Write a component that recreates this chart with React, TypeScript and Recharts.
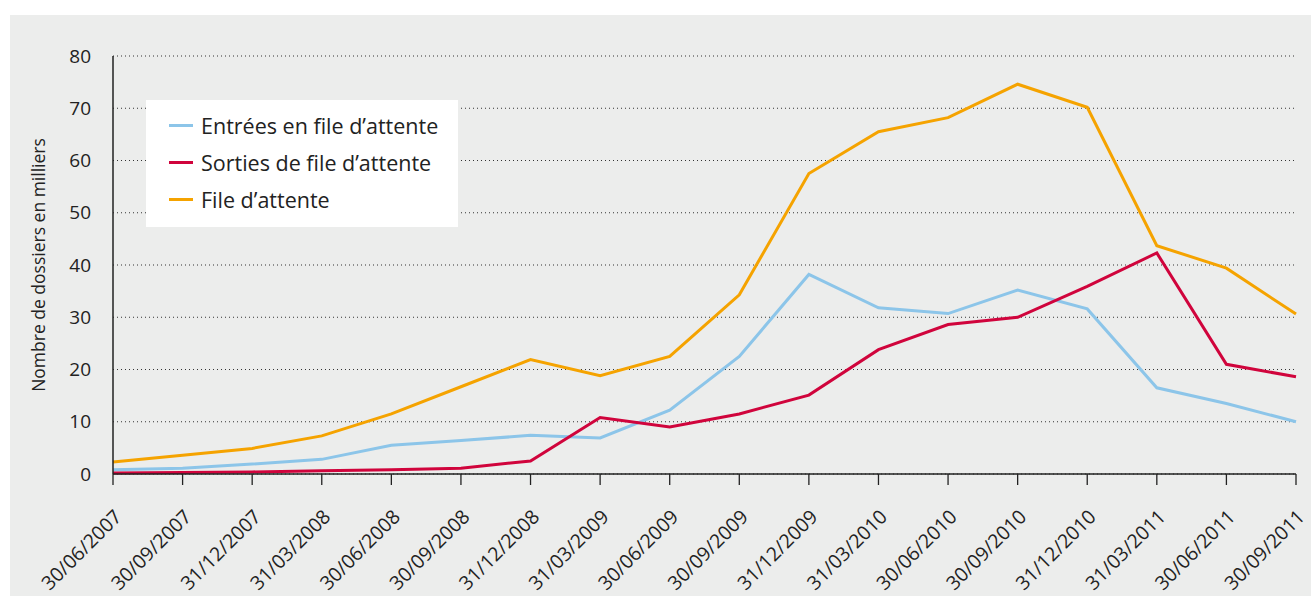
import React from "react";
import { LineChart, Line, XAxis, YAxis, CartesianGrid } from "recharts";

// trimestres (fin de période)
const dates = [
  "30/06/2007", "30/09/2007", "31/12/2007", "31/03/2008", "30/06/2008", "30/09/2008",
  "31/12/2008", "31/03/2009", "30/06/2009", "30/09/2009", "31/12/2009", "31/03/2010",
  "30/06/2010", "30/09/2010", "31/12/2010", "31/03/2011", "30/06/2011", "30/09/2011",
];

// en milliers de dossiers
const entrees = [0.8, 1.1, 1.9, 2.8, 5.5, 6.4, 7.4, 6.9, 12.2, 22.5, 38.2, 31.8, 30.7, 35.2, 31.6, 16.5, 13.5, 10.0];
const sorties = [0.2, 0.3, 0.4, 0.6, 0.8, 1.1, 2.5, 10.8, 9.0, 11.5, 15.1, 23.8, 28.6, 30.0, 35.9, 42.3, 21.0, 18.6];
const fileAttente = [2.3, 3.6, 4.9, 7.3, 11.5, 16.7, 21.9, 18.8, 22.5, 34.3, 57.5, 65.5, 68.2, 74.6, 70.2, 43.7, 39.4, 30.6];

const yTicks = [0, 10, 20, 30, 40, 50, 60, 70, 80];

const series = [
  { key: "entrees", name: "Entrées en file d’attente", color: "#8cc5e9" },
  { key: "sorties", name: "Sorties de file d’attente", color: "#d0043c" },
  { key: "fileAttente", name: "File d’attente", color: "#f5a300" },
];

const chartData = dates.map((date, i) => ({
  date,
  entrees: entrees[i],
  sorties: sorties[i],
  fileAttente: fileAttente[i],
}));

const FONT = "'Open Sans', 'Noto Sans', sans-serif";

function DateTick({ x, y, payload }: any) {
  const ax = x + 10;
  const ay = y + 31;
  return (
    <text x={ax} y={ay} transform={`rotate(-45 ${ax} ${ay})`} textAnchor="end" fontSize={19.5} fill="#222">
      {payload.value}
    </text>
  );
}

function LegendBox() {
  return (
    <div
      style={{
        position: "absolute",
        left: 136,
        top: 85,
        width: 312,
        height: 127,
        background: "#fff",
        boxSizing: "border-box",
        paddingTop: 7,
        paddingLeft: 23,
      }}
    >
      {series.map((s) => (
        <div key={s.key} style={{ display: "flex", alignItems: "center", height: 37 }}>
          <span style={{ display: "inline-block", width: 24, height: 3, background: s.color, marginRight: 8 }} />
          <span style={{ fontSize: 21.5, color: "#222", whiteSpace: "nowrap" }}>{s.name}</span>
        </div>
      ))}
    </div>
  );
}

function YLabel({ viewBox }: any) {
  const cx = viewBox.x + 35;
  const cy = viewBox.y + viewBox.height / 2;
  return (
    <text x={cx} y={cy} transform={`rotate(-90 ${cx} ${cy})`} textAnchor="middle" fontSize={17.5} fill="#222">
      Nombre de dossiers en milliers
    </text>
  );
}

export default function App() {
  return (
    <div style={{ position: "absolute", left: 10, top: 15, width: 1301, height: 581, background: "#ecedec", fontFamily: FONT }}>
      <LineChart width={1301} height={581} data={chartData} margin={{ top: 41, right: 15, left: 0, bottom: 0 }}>
        <CartesianGrid vertical={false} stroke="#333" strokeDasharray="1 3" />
        <XAxis
          dataKey="date"
          interval={0}
          height={122}
          tickSize={11}
          tick={<DateTick />}
          axisLine={{ stroke: "#222", strokeWidth: 1.5 }}
          tickLine={{ stroke: "#222", strokeWidth: 1.3 }}
        />
        <YAxis
          width={103}
          domain={[0, 80]}
          ticks={yTicks}
          interval={0}
          tickLine={false}
          tickMargin={16}
          tick={{ fontSize: 19, fill: "#222" }}
          axisLine={{ stroke: "#222", strokeWidth: 1.5 }}
          label={<YLabel />}
        />
        {series.map((s) => (
          <Line
            key={s.key}
            dataKey={s.key}
            name={s.name}
            stroke={s.color}
            strokeWidth={3}
            dot={false}
            isAnimationActive={false}
          />
        ))}
      </LineChart>
      <LegendBox />
    </div>
  );
}
